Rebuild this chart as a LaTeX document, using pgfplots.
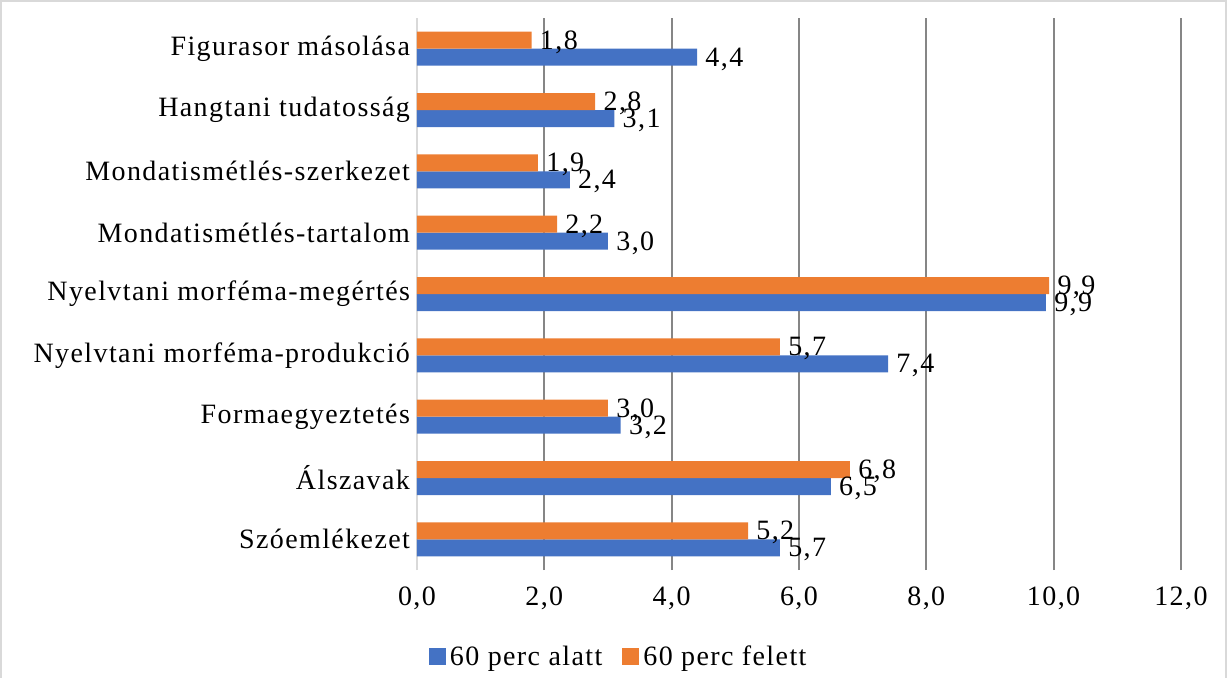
\documentclass[border=0pt]{standalone}
\usepackage{pgfplots}
\pgfplotsset{compat=1.18}
\usepackage{fontspec}
\setmainfont{Liberation Serif}[LetterSpace=5]
\definecolor{cblue}{HTML}{4472C4}
\definecolor{corange}{HTML}{ED7D31}
\definecolor{gridgray}{HTML}{868686}
\definecolor{zerogray}{HTML}{D9D9D9}
\begin{document}
\begin{tikzpicture}
\useasboundingbox (0,0) rectangle (613.5pt,338.5pt);
\draw[color=zerogray, line width=0.8pt] (0.5pt,-2pt) rectangle (613pt,338pt);
\begin{axis}[
  at={(208.5pt,53.5pt)}, anchor=south west,
  scale only axis, width=391.5pt, height=276pt,
  xmin=0, xmax=12.3, ymin=-0.5, ymax=8.5,
  xbar, bar width=8.5pt,
  axis line style={draw=none},
  major tick length=0pt,
  xtick={2,4,...,12},
  extra x ticks={0},
  extra x tick style={major grid style={color=zerogray, line width=1pt}},
  xmajorgrids,
  major grid style={color=gridgray, line width=1pt},
  ytick={0,...,8},
  yticklabels={Szóemlékezet, Álszavak, Formaegyeztetés, Nyelvtani morféma-produkció, Nyelvtani morféma-megértés, Mondatismétlés-tartalom, Mondatismétlés-szerkezet, Hangtani tudatosság, Figurasor másolása},
  /pgf/number format/.cd, use comma, fixed, fixed zerofill, precision=1, assume math mode=true,
  /pgfplots/.cd,
  ticklabel style={font=\fontsize{14}{16}\selectfont},
  xticklabel style={yshift=-5pt},
  nodes near coords,
  nodes near coords style={font=\fontsize{14}{16}\selectfont, anchor=west, inner sep=4pt, yshift=-1pt,
    /pgf/number format/.cd, use comma, fixed, fixed zerofill, precision=1, assume math mode=true},
  legend columns=2,
  legend style={at={(0.2589,-0.1576)}, anchor=center, draw=none, fill=none,
    font=\fontsize{14}{16}\selectfont, /tikz/every even column/.append style={column sep=8pt}},
  legend image code/.code={\fill[#1] (-1pt,-4.25pt) rectangle (7.5pt,4.25pt);},
]
\addplot[fill=cblue, draw=none, bar shift=-4.25pt] coordinates {
 (5.7,0) (6.5,1) (3.2,2) (7.4,3) (9.88,4) (3.0,5) (2.4,6) (3.1,7) (4.4,8)};
\addplot[fill=corange, draw=none, bar shift=4.25pt] coordinates {
 (5.2,0) (6.8,1) (3.0,2) (5.7,3) (9.93,4) (2.2,5) (1.9,6) (2.8,7) (1.8,8)};
\legend{60 perc alatt, 60 perc felett}
\end{axis}
\end{tikzpicture}
\end{document}
